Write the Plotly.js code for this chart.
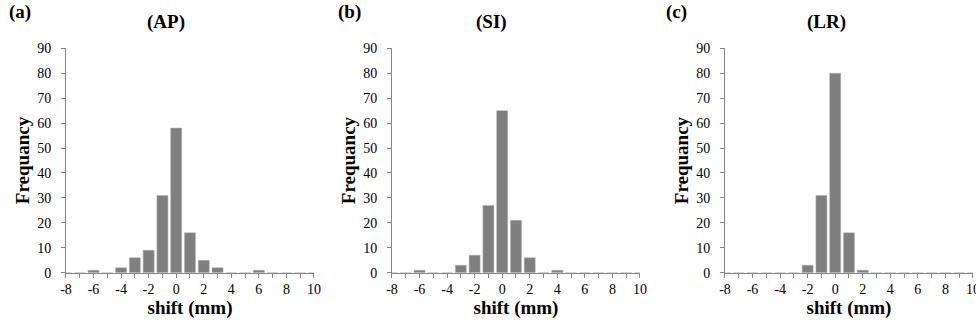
<!DOCTYPE html>
<html>
<head>
<meta charset="utf-8">
<script src="https://cdn.plot.ly/plotly-3.0.1.min.js"></script>
<style>html,body{margin:0;padding:0;background:#fff;}#chart{width:976px;height:328px;}</style>
</head>
<body>
<div id="chart"></div>
<script>
// Data
const shifts = [-8,-7,-6,-5,-4,-3,-2,-1,0,1,2,3,4,5,6,7,8,9,10];
const apCounts = [0,0,1,0,2,6,9,31,58,16,5,2,0,0,1,0,0,0,0];
const siCounts = [0,0,1,0,0,3,7,27,65,21,6,0,1,0,0,0,0,0,0];
const lrCounts = [0,0,0,0,0,0,3,31,80,16,1,0,0,0,0,0,0,0,0];
const panelTitles = ['(AP)', '(SI)', '(LR)'];
const panelLetters = ['(a)', '(b)', '(c)'];
const xTickVals = [-8,-6,-4,-2,0,2,4,6,8,10];
const xTickText = ['-8','-6','-4','-2','0','2','4','6','8','10'];
const yTickVals = [0,10,20,30,40,50,60,70,80,90];

const FONT = '"Liberation Serif", "Times New Roman", serif';
const AXC = '#868686';
const BARC = '#7f7f7f';

const series = [apCounts, siCounts, lrCounts];
const domains = [[0.0676, 0.3217], [0.4016, 0.6557], [0.7428, 0.9969]];
const yDomain = [0.1686, 0.8527];

const traces = series.map((s, i) => ({
  type: 'bar',
  x: shifts,
  y: s,
  width: 0.8,
  marker: {color: BARC, line: {color: '#b0b0b0', width: 0.5}},
  xaxis: i === 0 ? 'x' : 'x' + (i + 1),
  yaxis: i === 0 ? 'y' : 'y' + (i + 1),
  hoverinfo: 'x+y',
  showlegend: false
}));

const layout = {
  width: 976, height: 328,
  margin: {l: 0, r: 0, t: 0, b: 0},
  paper_bgcolor: '#fff', plot_bgcolor: '#fff',
  font: {family: FONT, color: '#000', size: 14},
  showlegend: false,
  bargap: 0,
  annotations: []
};

const titleOffsets = [-24, -24, -22];
const letterX = [20, 349, 676];

for (let i = 0; i < 3; i++) {
  const sfx = i === 0 ? '' : String(i + 1);
  layout['xaxis' + sfx] = {
    domain: domains[i],
    anchor: 'y' + sfx,
    range: [-8, 10],
    tickmode: 'array',
    tickvals: xTickVals,
    ticktext: xTickText,
    ticks: 'outside', ticklen: 4, tickcolor: AXC, tickwidth: 1,
    minor: {dtick: 1, tick0: 0, ticks: 'outside', ticklen: 4, tickcolor: AXC, tickwidth: 1, showgrid: false},
    showline: true, linecolor: AXC, linewidth: 1,
    showgrid: false, zeroline: false,
    tickfont: {family: FONT, size: 14, color: '#000'},
    title: {text: '<b>shift (mm)</b>', font: {family: FONT, size: 19, color: '#000'}, standoff: 2},
    fixedrange: true
  };
  layout['yaxis' + sfx] = {
    domain: yDomain,
    anchor: 'x' + sfx,
    range: [0, 90],
    tickvals: yTickVals,
    ticks: 'outside', ticklen: 4, tickcolor: AXC, tickwidth: 1,
    ticklabelstandoff: 7,
    showline: true, linecolor: AXC, linewidth: 1,
    showgrid: false, zeroline: false,
    tickfont: {family: FONT, size: 14, color: '#000'},
    title: {text: '<b>Frequancy</b>', font: {family: FONT, size: 19, color: '#000'}, standoff: 2},
    fixedrange: true
  };
  const d = domains[i];
  const centerPx = (d[0] + d[1]) / 2 * 976 + titleOffsets[i];
  layout.annotations.push({
    text: '<b>' + panelTitles[i] + '</b>',
    xref: 'paper', yref: 'paper',
    x: centerPx / 976, y: 1 - 22 / 328,
    xanchor: 'center', yanchor: 'middle',
    showarrow: false,
    font: {family: FONT, size: 19, color: '#000'}
  });
  layout.annotations.push({
    text: '<b>' + panelLetters[i] + '</b>',
    xref: 'paper', yref: 'paper',
    x: letterX[i] / 976, y: 1 - 12 / 328,
    xanchor: 'center', yanchor: 'middle',
    showarrow: false,
    font: {family: FONT, size: 19, color: '#000'}
  });
}

// last tick label of panel (c) runs off the page edge in the reference; Plotly hides it, so draw it via annotation on that axis
layout.annotations.push({
  text: xTickText[xTickText.length - 1],
  xref: 'x3', yref: 'paper',
  x: xTickVals[xTickVals.length - 1], y: yDomain[0],
  xanchor: 'center', yanchor: 'top', yshift: -7,
  showarrow: false,
  font: {family: FONT, size: 14, color: '#000'}
});

Plotly.newPlot('chart', traces, layout, {displayModeBar: false, staticPlot: true});
</script>
</body>
</html>
